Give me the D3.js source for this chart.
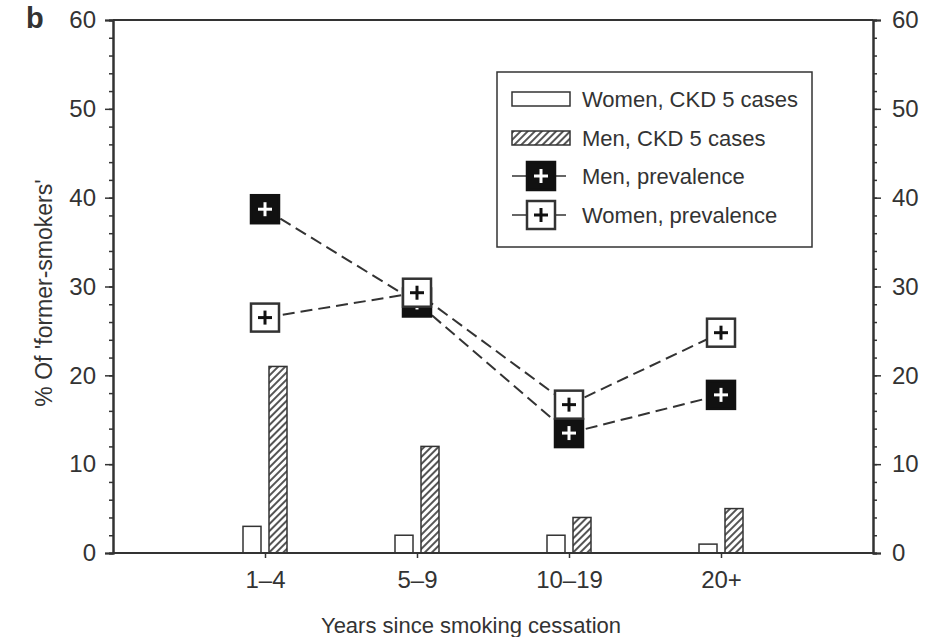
<!DOCTYPE html>
<html>
<head>
<meta charset="utf-8">
<script src="https://cdn.jsdelivr.net/npm/d3@7"></script>
<style>
  html, body { margin: 0; padding: 0; background: #fff; }
  svg { display: block; }
  text { font-family: "Liberation Sans", Arial, Helvetica, sans-serif; fill: #333; }
</style>
</head>
<body>
<script>
// ---- data ----
const categories = ["1–4", "5–9", "10–19", "20+"];
const womenCases = [3, 2, 2, 1];
const menCases = [21, 12, 4, 5];
const menPrevalence = [38.7, 28.2, 13.5, 17.8];
const womenPrevalence = [26.5, 29.3, 16.7, 24.8];
const yTicks = [0, 10, 20, 30, 40, 50, 60];
const yMinorTicks = d3.range(0, 61, 2);
const legendLabels = ["Women, CKD 5 cases", "Men, CKD 5 cases", "Men, prevalence", "Women, prevalence"];

const W = 938, H = 637;
const mLeft = 113, mRight = 873, mTop = 20, mBottom = 553;
const ink = "#333";

const svg = d3.select("body").append("svg").attr("width", W).attr("height", H);

const defs = svg.append("defs");
const pat = defs.append("pattern").attr("id", "hatch")
  .attr("patternUnits", "userSpaceOnUse").attr("width", 5).attr("height", 5)
  .attr("patternTransform", "rotate(45)");
pat.append("rect").attr("width", 5).attr("height", 5).attr("fill", "#fff");
pat.append("line").attr("x1", 1).attr("y1", 0).attr("x2", 1).attr("y2", 5)
  .attr("stroke", "#555").attr("stroke-width", 2);

const x = d3.scalePoint().domain(categories).range([mLeft, mRight]).padding(1);
const y = d3.scaleLinear().domain([0, 60]).range([mBottom, mTop]);

// frame top line
svg.append("line").attr("x1", mLeft).attr("x2", mRight).attr("y1", y(60)).attr("y2", y(60))
  .attr("stroke", ink).attr("stroke-width", 2);

function styleAxis(g) {
  g.selectAll("path.domain").attr("stroke", ink).attr("stroke-width", 2);
  g.selectAll(".tick line").attr("stroke", ink).attr("stroke-width", 1.5);
  g.selectAll(".tick text").style("font-size", "24px").attr("fill", "#3a3a3a");
}

// left axis
svg.append("g").attr("transform", `translate(${mLeft},0)`)
  .call(d3.axisLeft(y).tickValues(yMinorTicks).tickSize(4).tickFormat(""))
  .call(styleAxis);
svg.append("g").attr("transform", `translate(${mLeft},0)`)
  .call(d3.axisLeft(y).tickValues(yTicks).tickSize(8).tickPadding(9).tickFormat(d3.format("d")))
  .call(styleAxis);
// right axis
svg.append("g").attr("transform", `translate(${mRight},0)`)
  .call(d3.axisRight(y).tickValues(yMinorTicks).tickSize(4).tickFormat(""))
  .call(styleAxis);
svg.append("g").attr("transform", `translate(${mRight},0)`)
  .call(d3.axisRight(y).tickValues(yTicks).tickSize(8).tickPadding(11).tickFormat(d3.format("d")))
  .call(styleAxis);

// bars
const barW = 18;
svg.append("g").selectAll("rect").data(womenCases).join("rect")
  .attr("x", (d, i) => x(categories[i]) - 22)
  .attr("y", d => y(d)).attr("width", barW).attr("height", d => y(0) - y(d))
  .attr("fill", "#fff").attr("stroke", ink).attr("stroke-width", 1.5);
svg.append("g").selectAll("rect").data(menCases).join("rect")
  .attr("x", (d, i) => x(categories[i]) + 4)
  .attr("y", d => y(d)).attr("width", barW).attr("height", d => y(0) - y(d))
  .attr("fill", "url(#hatch)").attr("stroke", ink).attr("stroke-width", 1.5);

// bottom axis (drawn after bars)
svg.append("g").attr("transform", `translate(0,${mBottom})`)
  .call(d3.axisBottom(x).tickSize(5).tickPadding(13).tickSizeOuter(0))
  .call(styleAxis)
  .call(g => g.select("path.domain").attr("d", `M${mLeft},0H${mRight}`));

// prevalence lines
const line = d3.line().x((d, i) => x(categories[i])).y(d => y(d));
svg.append("path").datum(menPrevalence).attr("d", line)
  .attr("fill", "none").attr("stroke", ink).attr("stroke-width", 2).attr("stroke-dasharray", "12,6");
svg.append("path").datum(womenPrevalence).attr("d", line)
  .attr("fill", "none").attr("stroke", ink).attr("stroke-width", 2).attr("stroke-dasharray", "12,6");

const S = 28;
function marker(g, cx, cy, filled) {
  g.append("rect").attr("x", cx - S / 2).attr("y", cy - S / 2).attr("width", S).attr("height", S)
    .attr("fill", filled ? "#111" : "#fff").attr("stroke", filled ? "#111" : ink).attr("stroke-width", 2.5);
  const c = filled ? "#fff" : "#111";
  g.append("line").attr("x1", cx - 7).attr("x2", cx + 7).attr("y1", cy).attr("y2", cy)
    .attr("stroke", c).attr("stroke-width", 3);
  g.append("line").attr("x1", cx).attr("x2", cx).attr("y1", cy - 7).attr("y2", cy + 7)
    .attr("stroke", c).attr("stroke-width", 3);
}
const mg = svg.append("g");
menPrevalence.forEach((d, i) => marker(mg, x(categories[i]), y(d), true));
womenPrevalence.forEach((d, i) => marker(mg, x(categories[i]), y(d), false));

// legend
const lg = svg.append("g");
lg.append("rect").attr("x", 497).attr("y", 72).attr("width", 315).attr("height", 175)
  .attr("fill", "#fff").attr("stroke", ink).attr("stroke-width", 1.5);
const rowY = [99, 138, 176, 215];
lg.append("rect").attr("x", 512).attr("y", rowY[0] - 7).attr("width", 58).attr("height", 14)
  .attr("fill", "#fff").attr("stroke", ink).attr("stroke-width", 1.5);
lg.append("rect").attr("x", 512).attr("y", rowY[1] - 7).attr("width", 58).attr("height", 14)
  .attr("fill", "url(#hatch)").attr("stroke", ink).attr("stroke-width", 1.5);
[2, 3].forEach(r => {
  lg.append("line").attr("x1", 512).attr("x2", 566).attr("y1", rowY[r]).attr("y2", rowY[r])
    .attr("stroke", ink).attr("stroke-width", 1.5);
  marker(lg, 541, rowY[r], r === 2);
});
lg.selectAll("text.leg").data(legendLabels).join("text").attr("class", "leg")
  .attr("x", 582).attr("y", (d, i) => rowY[i]).attr("dy", "0.36em")
  .style("font-size", "22px").text(d => d);

// titles
svg.append("text").attr("x", 471).attr("y", 633).attr("text-anchor", "middle")
  .style("font-size", "22px").text("Years since smoking cessation");
svg.append("text").attr("transform", "translate(52,293) rotate(-90)").attr("text-anchor", "middle")
  .style("font-size", "23px").text("% Of 'former-smokers'");
svg.append("text").attr("x", 26).attr("y", 28).style("font-size", "29px").style("font-weight", "bold")
  .attr("fill", "#222").text("b");
</script>
</body>
</html>
